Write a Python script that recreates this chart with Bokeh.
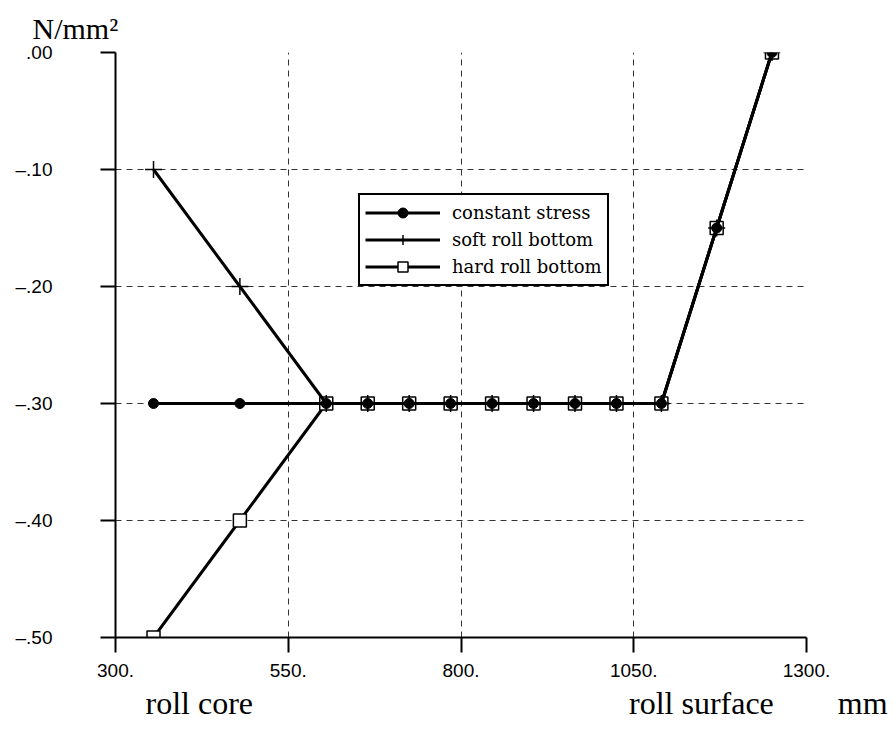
from bokeh.plotting import figure
from bokeh.models import (Range1d, FixedTicker, Legend, LegendItem, Title)
from bokeh.embed import file_html
from bokeh.resources import INLINE

# ---- data ----
radius_mm = [355, 480, 605, 665, 725, 785, 845, 905, 965, 1025, 1090, 1170, 1250]
constant_stress = [-0.30, -0.30, -0.30, -0.30, -0.30, -0.30, -0.30, -0.30, -0.30, -0.30, -0.30, -0.15, 0.00]
soft_roll_bottom = [-0.10, -0.20, -0.30, -0.30, -0.30, -0.30, -0.30, -0.30, -0.30, -0.30, -0.30, -0.15, 0.00]
hard_roll_bottom = [-0.50, -0.40, -0.30, -0.30, -0.30, -0.30, -0.30, -0.30, -0.30, -0.30, -0.30, -0.15, 0.00]

x_ticks = [300, 550, 800, 1050, 1300]
x_tick_labels = ["300.", "550.", "800.", "1050.", "1300."]
y_ticks = [0.0, -0.1, -0.2, -0.3, -0.4, -0.5]
y_tick_labels = [".00", "\u2013.10", "\u2013.20", "\u2013.30", "\u2013.40", "\u2013.50"]

series_names = ["constant stress", "soft roll bottom", "hard roll bottom"]
unit_label = "N/mm\u00b2"
bottom_labels = ["roll core", "roll surface", "mm"]

SERIF = "Liberation Serif"
SANS = "Liberation Sans"

p = figure(
    width=895, height=729,
    frame_width=691, frame_height=585,
    min_border_left=115, min_border_right=89,
    min_border_top=52, min_border_bottom=92,
    x_range=Range1d(300, 1300), y_range=Range1d(-0.5, 0.0),
    output_backend="svg", toolbar_location=None,
    background_fill_color="white", border_fill_color="white",
)
p.outline_line_color = None

# grid
for g in (p.xgrid, p.ygrid):
    g.grid_line_color = "#333333"
    g.grid_line_width = 1
    g.grid_line_dash = "6 5"
p.xgrid.ticker = FixedTicker(ticks=x_ticks)
p.ygrid.ticker = FixedTicker(ticks=y_ticks)

# axes
p.xaxis.ticker = FixedTicker(ticks=x_ticks)
p.yaxis.ticker = FixedTicker(ticks=y_ticks)
p.xaxis.major_label_overrides = {t: l for t, l in zip(x_ticks, x_tick_labels)}
p.yaxis.major_label_overrides = {t: l for t, l in zip(y_ticks, y_tick_labels)}
for ax in (p.xaxis, p.yaxis):
    ax.axis_line_width = 2
    ax.axis_line_color = "black"
    ax.major_tick_line_width = 2
    ax.major_tick_line_color = "black"
    ax.major_tick_in = 0
    ax.major_tick_out = 15
    ax.minor_tick_line_color = None
    ax.major_label_text_font = SANS
    ax.major_label_text_font_size = "19px"
    ax.major_label_text_color = "black"
p.xaxis.major_label_standoff = 11
p.yaxis.major_label_standoff = 48

# series (draw squares first so plus/circle markers overlay them)
l_hard = p.line(radius_mm, hard_roll_bottom, line_color="black", line_width=3)
m_hard = p.scatter(radius_mm, hard_roll_bottom, marker="square", size=13,
                   fill_color="white", line_color="black", line_width=1.5)
l_soft = p.line(radius_mm, soft_roll_bottom, line_color="black", line_width=3)
m_soft = p.scatter(radius_mm, soft_roll_bottom, marker="cross", size=17,
                   line_color="black", line_width=1.5)
l_const = p.line(radius_mm, constant_stress, line_color="black", line_width=3)
m_const = p.scatter(radius_mm, constant_stress, marker="circle", size=10,
                    fill_color="black", line_color="black")

legend = Legend(
    items=[
        LegendItem(label=series_names[0], renderers=[l_const, m_const]),
        LegendItem(label=series_names[1], renderers=[l_soft, m_soft]),
        LegendItem(label=series_names[2], renderers=[l_hard, m_hard]),
    ],
    location=(243, 351),
    glyph_width=75, glyph_height=25, label_height=25,
    spacing=2, padding=5, margin=0, label_standoff=12,
    label_text_font="DejaVu Serif", label_text_font_size="18px",
    label_text_color="black",
    border_line_color="black", border_line_width=2, border_line_alpha=1.0,
    background_fill_color="white", background_fill_alpha=1.0,
)
p.add_layout(legend, "center")

# texts outside the frame, as titles
NB = "\u00a0"
bottom_text = bottom_labels[0] + NB * 47 + bottom_labels[1] + NB * 8 + bottom_labels[2]
p.add_layout(Title(text=bottom_text, align="left", offset=30, standoff=6,
                   text_font=SERIF, text_font_size="32px", text_font_style="normal",
                   text_color="black"), "below")
p.add_layout(Title(text=unit_label, align="left", offset=-83, standoff=16,
                   text_font=SERIF, text_font_size="30px", text_font_style="normal",
                   text_color="black"), "above")

open("out.html", "w").write(file_html(p, INLINE))
